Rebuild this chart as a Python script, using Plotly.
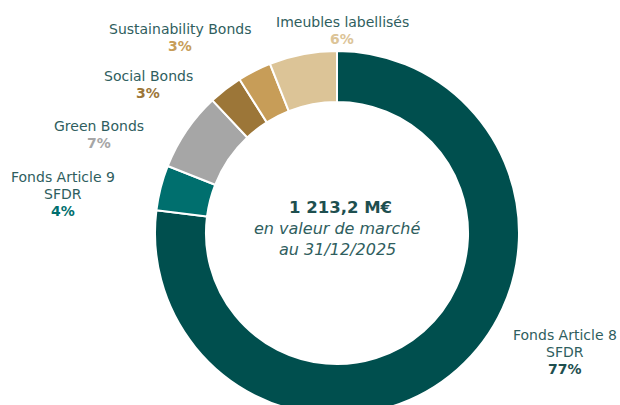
import plotly.graph_objects as go

# ---- data ----
categories = ["Fonds Article 8 SFDR", "Fonds Article 9 SFDR", "Green Bonds",
              "Social Bonds", "Sustainability Bonds", "Imeubles labellisés"]
values = [77, 4, 7, 3, 3, 6]
label_lines = [["Fonds Article 8", "SFDR"], ["Fonds Article 9", "SFDR"], ["Green Bonds"],
               ["Social Bonds"], ["Sustainability Bonds"], ["Imeubles labellisés"]]
colors = ["#004f4e", "#006f6e", "#a6a6a6", "#9c7638", "#c79d58", "#dcc497"]
pct_colors = ["#1e4f4f", "#006f6e", "#a6a6a6", "#9c7638", "#c79d58", "#dcc497"]
total_text = "1 213,2 M€"
sub_lines = ["en valeur de marché", "au 31/12/2025"]

W, H = 620, 425
cx, cy, R = 337, 233, 182
label_pos = [(565, 335), (63, 177), (99, 126), (148, 76), (180, 29), (342, 22)]

TXT = "#2f5e5e"
FONT = "DejaVu Sans"
FS = 14
LH = 16.8

fig = go.Figure(go.Pie(
    labels=categories, values=values, sort=False, direction="clockwise",
    rotation=0, hole=0.72, textinfo="none",
    marker=dict(colors=colors, line=dict(color="white", width=2)),
    domain=dict(x=[(cx - R) / W, (cx + R) / W], y=[1 - (cy + R) / H, 1 - (cy - R) / H]),
    showlegend=False,
))

anns = []
for lines, pc, v, (x, y) in zip(label_lines, pct_colors, values, label_pos):
    items = [(ln, TXT, False) for ln in lines] + [(f"{v}%", pc, True)]
    for i, (t, col, bold) in enumerate(items):
        anns.append(dict(x=x / W, y=1 - (y + i * LH) / H, xref="paper", yref="paper",
                         xanchor="center", yanchor="middle",
                         text=f"<b>{t}</b>" if bold else t, showarrow=False,
                         font=dict(family=FONT, size=FS, color=col)))
anns.append(dict(x=340 / W, y=1 - 207 / H, xref="paper", yref="paper", text=f"<b>{total_text}</b>",
                 showarrow=False, yanchor="middle", font=dict(family=FONT, size=16.5, color="#1e4f4f")))
for i, s in enumerate(sub_lines):
    anns.append(dict(x=337 / W, y=1 - (228 + 21 * i) / H, xref="paper", yref="paper",
                     text=f"<i>{s}</i>", showarrow=False, yanchor="middle",
                     font=dict(family=FONT, size=16, color=TXT)))

fig.update_layout(width=W, height=H, margin=dict(l=0, r=0, t=0, b=0),
                  paper_bgcolor="white", plot_bgcolor="white", annotations=anns)

fig.write_html("out.html", post_script="document.documentElement.style.overflow='hidden';document.body.style.overflow='hidden';document.body.style.margin='0';")
